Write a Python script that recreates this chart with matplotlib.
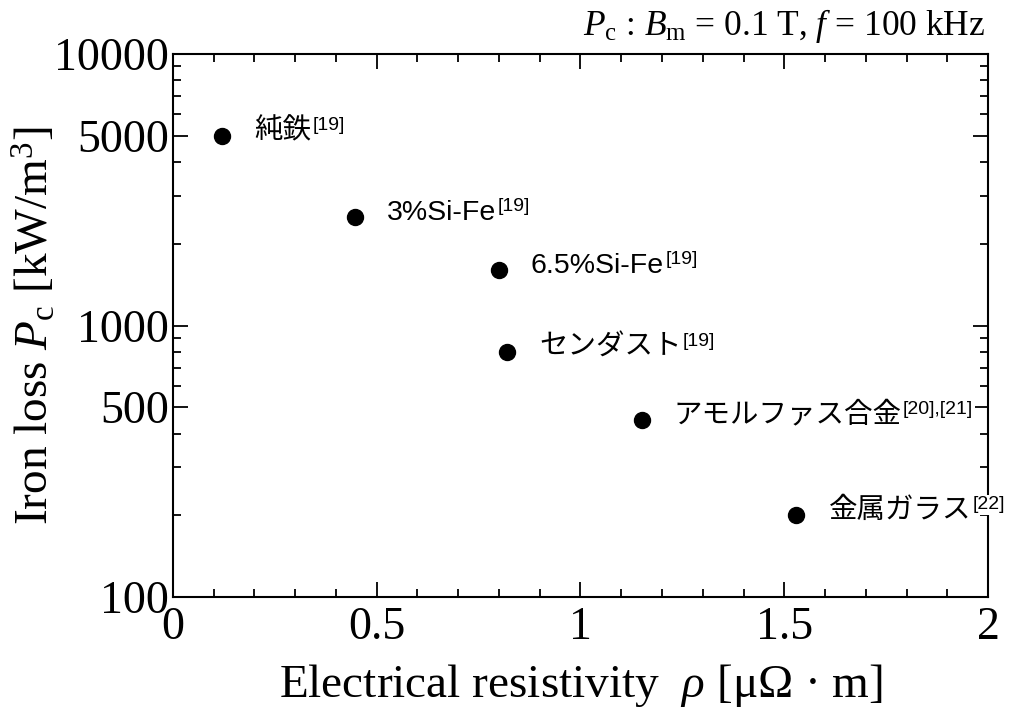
import matplotlib
matplotlib.use("Agg")
import matplotlib.pyplot as plt
from matplotlib.ticker import FixedLocator, NullFormatter, LogLocator

## data
rho = [0.12, 0.447, 0.80, 0.82, 1.15, 1.53]
loss = [5000, 2500, 1600, 800, 450, 200]
names = ["純鉄", "3%Si-Fe", "6.5%Si-Fe", "センダスト", "アモルファス合金", "金属ガラス"]
refs = ["[19]", "[19]", "[19]", "[19]", "[20],[21]", "[22]"]

ytick_vals = [100, 500, 1000, 5000, 10000]
ytick_labels = ["100", "500", "1000", "5000", "10000"]
xtick_vals = [0, 0.5, 1, 1.5, 2]
xtick_labels = ["0", "0.5", "1", "1.5", "2"]

plt.rcParams["mathtext.fontset"] = "custom"
plt.rcParams["mathtext.rm"] = "Liberation Serif"
plt.rcParams["mathtext.it"] = "Liberation Serif:italic"
plt.rcParams["mathtext.sf"] = "Liberation Sans"

serif = ["Liberation Serif", "Noto Sans CJK JP"]
sans = ["Liberation Sans", "Noto Sans CJK JP"]

fig = plt.figure(figsize=(10.21, 7.09), dpi=100)
ax = fig.add_axes([0.1694, 0.158, 0.7983, 0.7658])

ax.plot(rho, loss, "o", color="black", markersize=11.5, linestyle="none", zorder=3)

ax.set_yscale("log")
ax.set_xlim(0, 2)
ax.set_ylim(100, 10000)

ax.xaxis.set_major_locator(FixedLocator(xtick_vals))
ax.set_xticklabels(xtick_labels)
ax.xaxis.set_minor_locator(FixedLocator([i / 10 for i in range(21)]))
ax.yaxis.set_major_locator(FixedLocator(ytick_vals))
ax.set_yticklabels(ytick_labels)
ax.yaxis.set_minor_locator(LogLocator(base=10, subs=(2, 3, 4, 6, 7, 8, 9)))
ax.yaxis.set_minor_formatter(NullFormatter())

ax.tick_params(which="both", direction="in", top=True, right=True, width=1.3, colors="black")
ax.tick_params(which="major", length=11, labelsize=33)
ax.tick_params(axis="x", which="major", pad=7)
ax.tick_params(axis="y", which="major", pad=3)
ax.tick_params(which="minor", length=6)
for lab in ax.get_xticklabels() + ax.get_yticklabels():
    lab.set_family(serif)
for s in ax.spines.values():
    s.set_linewidth(1.5)

ax.set_xlabel(r"Electrical resistivity  $\rho$ [μΩ · m]", family=serif, fontsize=34, labelpad=9)
ax.set_ylabel(r"Iron loss $P_\mathrm{c}$ [kW/m$^3$]", family=serif, fontsize=34)
ax.yaxis.set_label_coords(-0.141, 0.5)

fig.text(0.965, 0.963, r"$P_\mathrm{c}$ : $B_\mathrm{m}$ = 0.1 T, $f$ = 100 kHz",
         family=serif, fontsize=25.5, ha="right", va="center")

## point labels with white boxes (they cover the right spine)
for x, y, n, r in zip(rho, loss, names, refs):
    t = ax.annotate(n, xy=(x, y), xytext=(23, 3), textcoords="offset points",
                    family=sans, fontsize=20.5, va="center", ha="left", zorder=5,
                    annotation_clip=False,
                    bbox=dict(facecolor="white", edgecolor="none", pad=1))
    ax.annotate(r, xy=(1, 0.42), xycoords=t, xytext=(1, 0), textcoords="offset points",
                family=sans, fontsize=14, va="bottom", ha="left", zorder=5,
                annotation_clip=False,
                bbox=dict(facecolor="white", edgecolor="none", pad=1))

fig.savefig("out.png", dpi=100)
